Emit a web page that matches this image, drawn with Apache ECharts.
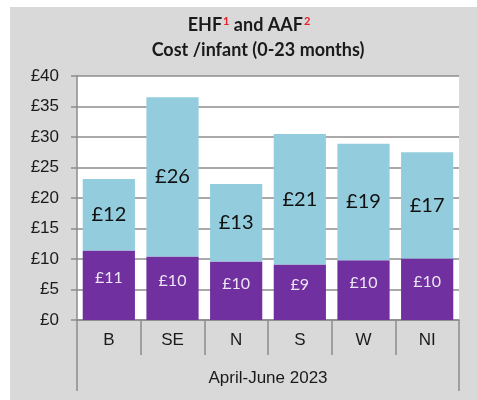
<!DOCTYPE html>
<html>
<head>
<meta charset="utf-8">
<script src="https://cdn.jsdelivr.net/npm/echarts@6/dist/echarts.min.js"></script>
<style>
  html, body { margin: 0; padding: 0; background: #fff; }
  #chart { width: 477px; height: 400px; }
</style>
</head>
<body>
<div id="chart"></div>
<script>
// regions, period
const regions = ['B', 'SE', 'N', 'S', 'W', 'NI'];
const period = ['April-June 2023'];
// cost per infant, £
const aafCost = [11.4, 10.4, 9.6, 9.1, 9.8, 10.1];
const ehfCost = [11.7, 26.1, 12.7, 21.4, 19.1, 17.4];
const yTicks = { min: 0, max: 40, step: 5 };

const chart = echarts.init(document.getElementById('chart'));

const axisGrey = '#8c8c8c';
const poundFmt = p => '£' + Math.round(p.value);

chart.setOption({
  backgroundColor: '#fff',
  animation: false,
  textStyle: { fontFamily: 'Liberation Sans, Arial, sans-serif' },
  graphic: [
    // grey panel behind everything
    { type: 'rect', z: -10, shape: { x: 10, y: 7, width: 467, height: 393 }, style: { fill: '#d9d9d9' } },
    {
      type: 'text', x: 249, y: 14,
      style: {
        text: '{a|EHF}{s|1}{a| and AAF}{s|2}',
        align: 'center',
        rich: {
          a: { fontFamily: 'Lato', fontWeight: 'bold', fontSize: 18, lineHeight: 22, fill: '#1a1a1a' },
          s: { fontFamily: 'Lato', fontWeight: 'bold', fontSize: 11, lineHeight: 14, verticalAlign: 'top', padding: [2, 0, 0, 1], fill: '#e8202a' }
        }
      }
    },
    {
      type: 'text', x: 258, y: 41,
      style: {
        text: 'Cost /infant (0-23 months)',
        align: 'center',
        fontFamily: 'Lato', fontWeight: 'bold', fontSize: 18, fill: '#1a1a1a'
      }
    }
  ],
  grid: {
    left: 77, right: 18, top: 76, bottom: 80,
    show: true, backgroundColor: '#fff', borderWidth: 0
  },
  xAxis: [
    {
      type: 'category',
      data: regions,
      position: 'bottom',
      axisLine: { lineStyle: { color: axisGrey, width: 1.5 } },
      axisTick: { show: true, interval: 0, length: 35, lineStyle: { color: axisGrey, width: 1.5 } },
      axisLabel: { color: '#1a1a1a', fontSize: 17, margin: 12 }
    },
    {
      type: 'category',
      data: period,
      position: 'bottom',
      axisLine: { show: false },
      axisTick: { show: true, length: 71, lineStyle: { color: axisGrey, width: 1.5 } },
      axisLabel: { color: '#1a1a1a', fontSize: 17, margin: 50 }
    }
  ],
  yAxis: {
    type: 'value',
    min: yTicks.min, max: yTicks.max, interval: yTicks.step,
    axisLine: { show: true, lineStyle: { color: axisGrey, width: 1.5 } },
    axisTick: { show: true, length: 6, lineStyle: { color: axisGrey, width: 1.5 } },
    axisLabel: { color: '#1a1a1a', fontSize: 17, margin: 18, formatter: '£{value}' },
    splitLine: { lineStyle: { color: axisGrey, width: 1.5 } }
  },
  series: [
    {
      name: 'AAF', type: 'bar', stack: 'cost', xAxisIndex: 0,
      data: aafCost,
      barCategoryGap: '18%',
      itemStyle: { color: '#7030a0' },
      label: {
        show: true, position: 'inside', offset: [0, -7],
        formatter: poundFmt, color: '#ece6f2', fontFamily: 'Lato', fontSize: 16
      }
    },
    {
      name: 'EHF', type: 'bar', stack: 'cost', xAxisIndex: 0,
      data: ehfCost,
      barCategoryGap: '18%',
      itemStyle: { color: '#93cddd' },
      label: {
        show: true, position: 'inside',
        formatter: poundFmt, color: '#111', fontFamily: 'Lato', fontSize: 20
      }
    }
  ]
});
</script>
</body>
</html>
